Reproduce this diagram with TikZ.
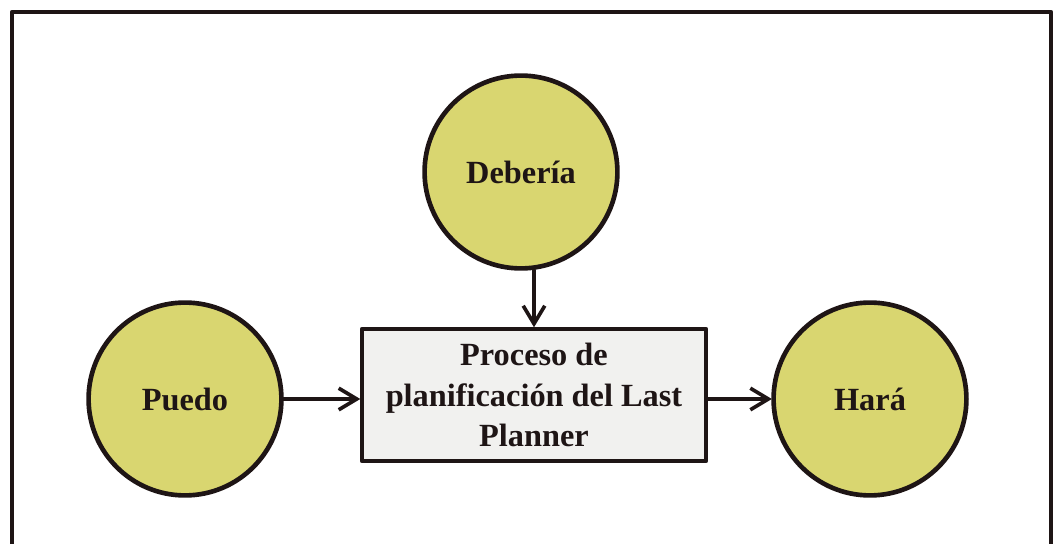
\documentclass[tikz,border=0pt]{standalone}
\usepackage{fontspec}
\setmainfont{Liberation Serif}
\usepackage{xcolor}
\usepackage{tikz}
\usetikzlibrary{arrows.meta,positioning}
\definecolor{ink}{HTML}{1E1515}
\definecolor{olive}{HTML}{D9D670}
\definecolor{paper}{HTML}{F1F1EF}
\tikzset{
    every picture/.style={line cap=round,line join=round},
    goalnode/.style={draw=ink,circle,fill=olive,line width=3.3pt,
      minimum size=4.82cm,inner sep=0pt,outer sep=1.2pt,
      font=\fontsize{23}{29}\selectfont\bfseries,text=ink},
    planbox/.style={draw=ink,fill=paper,line width=3.3pt,
      minimum width=8.6cm,minimum height=3.3cm,inner sep=2pt,outer sep=1.2pt,
      font=\fontsize{23}{28.5}\selectfont\bfseries,text=ink,align=center},
    flowarrow/.style={-{Straight Barb[length=4.5mm,width=5.4mm,line width=2.6pt]},
      draw=ink,line width=2.6pt},
    frameline/.style={draw=ink,line width=3pt,line cap=butt}
}
\begin{document}
\begin{tikzpicture}[x=0.025cm,y=-0.025cm]
  \useasboundingbox (0,0) rectangle (1054,544);
  % outer frame, its lower edge falls outside the picture
  \draw[frameline] (12,544) -- (12,12) -- (1051,12) -- (1051,544);

  \node[goalnode] (deberia) at (521,172) {Debería};
  \node[goalnode] (puedo) at (185,399) {Puedo};
  \node[goalnode] (hara) at (870,399) {Hará};
  \node[planbox] (proceso) at (534,395)
    {Proceso de\\planificación del Last\\Planner};

  \draw[flowarrow] (proceso.north |- deberia.south) -- (proceso.north);
  \draw[flowarrow] (puedo.east) -- (proceso.west |- puedo.east);
  \draw[flowarrow] (proceso.east |- hara.west) -- (hara.west);
\end{tikzpicture}
\end{document}
